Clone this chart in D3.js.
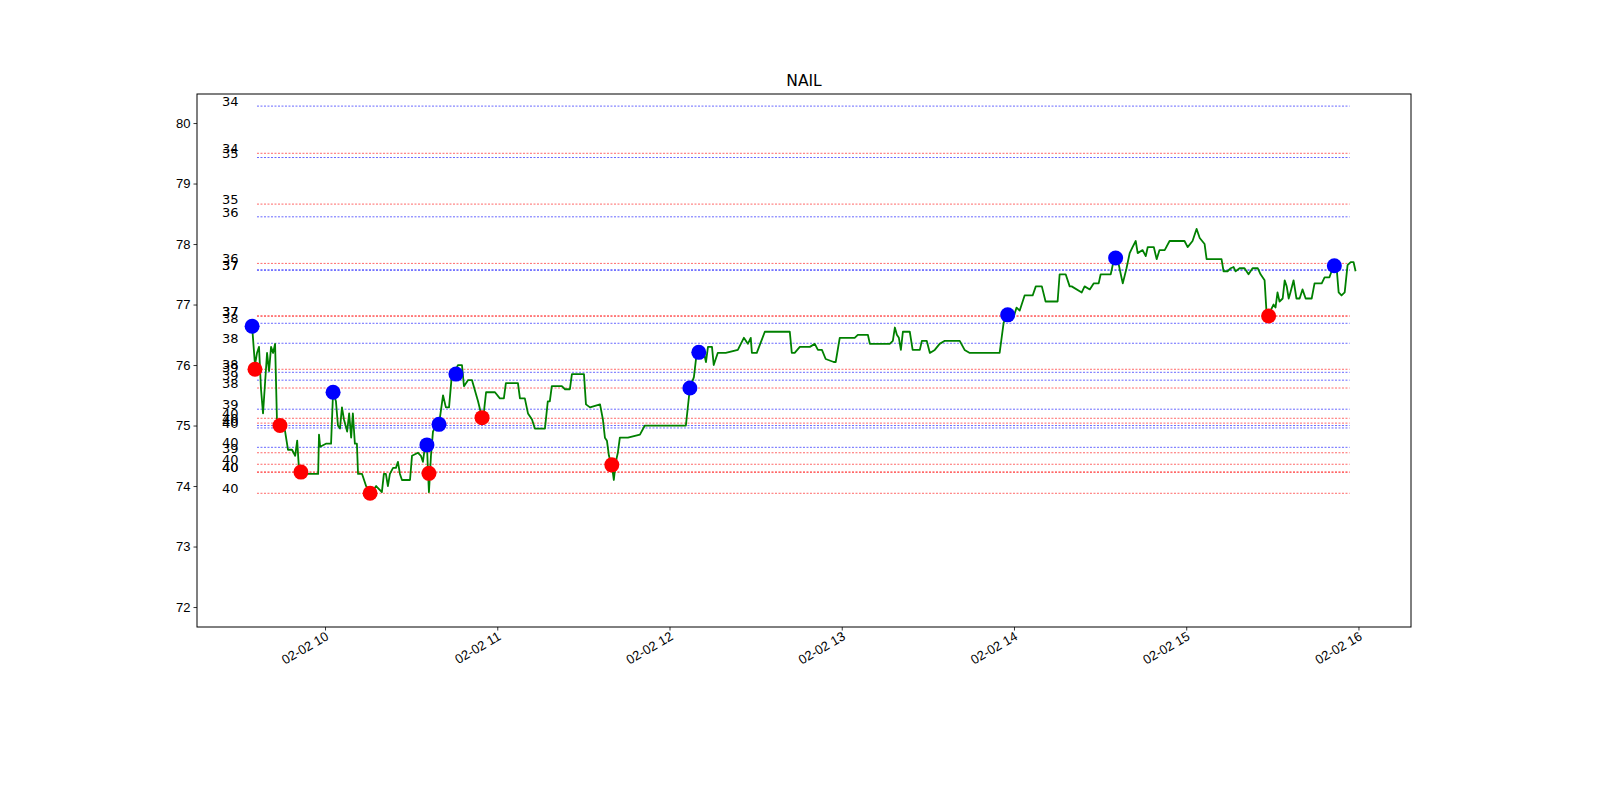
<!DOCTYPE html>
<html>
<head>
<meta charset="utf-8">
<script src="https://cdn.jsdelivr.net/npm/d3@7"></script>
<style>
  body { margin: 0; background: #fff; }
  svg { font-family: "DejaVu Sans", sans-serif; }
</style>
</head>
<body>
<svg width="1600" height="800"></svg>
<script>
// minutes after 09:00 on 02-02, price
var priceMinutes = [34.6,35.6,36.3,37.0,37.7,38.4,39.1,39.8,40.5,41.2,41.9,42.6,43.3,44.3,45.4,46.1,47.1,48.5,49.6,50.3,50.9,52.0,54.8,57.6,57.9,58.3,60.3,62.1,62.8,63.8,64.5,65.2,65.9,66.6,67.7,68.4,69.1,69.7,70.4,71.1,71.5,72.9,74.3,75.7,76.4,77.8,79.8,80.5,81.2,81.9,82.6,83.7,84.7,85.4,86.1,86.8,89.6,90.3,92.4,93.4,94.1,94.8,95.5,95.9,96.2,96.9,97.6,98.6,99.7,101.1,102.1,103.2,104.2,105.3,106.3,107.7,108.4,109.8,111.2,113.3,114.7,115.4,116.1,117.5,119.2,120.9,122.3,123.0,124.4,127.2,127.9,129.6,130.7,132.1,133.1,136.6,137.6,138.3,139.0,142.5,143.6,145.3,146.0,150.2,150.9,152.3,155.8,156.8,157.5,158.2,158.9,159.9,160.6,161.3,162.0,162.7,165.5,169.7,171.4,180.1,185.7,187.1,188.5,189.5,190.6,192.0,192.7,193.4,194.8,195.4,196.8,199.6,203.8,205.9,207.3,208.3,208.7,210.4,213.2,221.9,222.6,223.6,225.4,228.9,230.6,231.7,233.1,234.4,237.2,237.9,239.3,244.5,245.6,249.1,249.8,256.7,257.8,258.5,259.2,259.9,260.6,261.3,263.7,264.7,267.2,267.9,269.6,270.7,272.4,274.1,275.9,281.1,282.8,284.6,286.3,295.0,296.4,297.8,299.2,299.9,300.9,302.0,303.7,306.5,307.6,309.7,311.0,315.2,315.9,318.0,319.4,320.1,323.6,324.6,326.4,327.8,329.5,330.2,332.6,333.7,334.7,336.1,337.2,337.9,339.2,340.3,341.3,342.4,343.1,344.8,345.9,346.6,348.7,349.7,350.7,352.5,354.2,359.4,360.5,362.2,363.6,364.7,366.4,367.1,369.9,372.3,373.0,374.4,375.5,376.5,377.2,378.6,380.3,381.7,383.1,384.9,385.9,387.3,388.0,388.7,389.4,390.4,391.1,391.8,392.5,393.6,394.3,395.0,395.7,396.3,397.4,398.4,399.5,400.5,401.6,403.7,404.7,407.2,408.2,409.9,411.3,412.4,413.1,414.1,415.2,416.2,417.3,418.3,419.0];
var priceValues = [76.64,76.0,76.2,76.3,75.6,75.2,75.7,76.2,75.9,76.3,76.2,76.35,75.0,75.0,75.0,74.9,74.6,74.6,74.5,74.75,74.3,74.2,74.2,74.2,74.85,74.65,74.7,74.7,75.55,75.4,75.0,74.95,75.3,75.1,74.9,75.2,74.8,75.2,74.7,74.7,74.2,74.2,74.0,73.9,73.9,74.0,73.9,74.2,74.2,74.0,74.2,74.3,74.3,74.4,74.2,74.1,74.1,74.5,74.55,74.5,74.4,74.65,74.68,74.2,73.9,74.5,74.9,75.0,75.02,75.5,75.3,75.3,75.85,75.9,76.0,76.0,75.65,75.75,75.75,75.4,75.13,75.25,75.55,75.55,75.55,75.45,75.45,75.7,75.7,75.7,75.45,75.45,75.2,75.1,74.95,74.95,75.4,75.4,75.65,75.65,75.6,75.6,75.85,75.85,75.35,75.3,75.35,75.1,74.8,74.75,74.5,74.35,74.1,74.4,74.55,74.8,74.8,74.85,75.0,75.0,75.0,75.62,75.8,76.21,76.2,76.2,76.05,76.3,76.3,76.0,76.2,76.2,76.25,76.45,76.35,76.45,76.2,76.2,76.55,76.55,76.2,76.2,76.3,76.3,76.35,76.25,76.25,76.1,76.05,76.05,76.45,76.45,76.5,76.5,76.35,76.35,76.4,76.62,76.5,76.45,76.25,76.55,76.55,76.25,76.25,76.4,76.4,76.2,76.25,76.35,76.4,76.4,76.25,76.2,76.2,76.2,76.7,76.83,76.9,76.8,76.95,76.9,77.15,77.15,77.3,77.3,77.05,77.05,77.5,77.5,77.3,77.3,77.2,77.3,77.25,77.35,77.35,77.5,77.5,77.5,77.72,77.75,77.5,77.35,77.6,77.85,77.95,78.05,77.85,77.9,77.8,77.95,77.95,77.75,77.9,77.9,78.05,78.05,77.95,78.05,78.25,78.1,78.0,77.75,77.75,77.75,77.55,77.55,77.6,77.62,77.55,77.6,77.6,77.5,77.6,77.6,77.5,77.4,76.85,76.81,76.9,77.0,76.95,77.2,77.05,77.1,77.4,77.3,77.1,77.2,77.4,77.1,77.1,77.25,77.1,77.1,77.35,77.35,77.45,77.45,77.64,77.6,77.2,77.15,77.2,77.65,77.7,77.7,77.55];

var highMinutes = [34.6,62.8,95.5,99.7,105.6,187.1,190.2,297.8,335.4,411.6];
var highValues  = [76.64,75.55,74.68,75.02,75.85,75.62,76.21,76.83,77.77,77.64];
var lowMinutes  = [35.6,44.3,51.6,75.7,96.2,114.7,159.9,388.7];
var lowValues   = [75.93,75.0,74.23,73.88,74.21,75.13,74.35,76.81];

var levelValues = [80.28,79.50,79.43,78.66,78.45,77.68,77.57,77.57,76.81,76.81,76.69,76.36,75.93,75.88,75.75,75.62,75.27,75.12,75.04,75.00,74.96,74.64,74.55,74.36,74.23,74.23,73.88];
var levelLabels = ["34","34","35","35","36","36","37","37","37","37","38","38","38","39","39","38","39","40","40","40","40","40","39","40","40","40","40"];
var levelKinds  = ["b","r","b","r","b","r","b","b","r","r","b","b","r","b","b","r","b","r","r","b","b","b","r","r","r","r","r"];
var levelStart = 36.3, levelEnd = 416.9, labelMinute = 24.1;

var yTicks = [72,73,74,75,76,77,78,79,80];
var xTickHours = [10,11,12,13,14,15,16];

var svg = d3.select("svg"),
  margin = {left: 197, right: 189, top: 94, bottom: 173},
  width = 1600 - margin.left - margin.right,
  height = 800 - margin.top - margin.bottom;

var base = new Date(2021, 1, 2, 9, 0);
function toDate(m) { return new Date(base.getTime() + m * 60000); }

var x = d3.scaleTime()
  .domain([toDate(15.4), toDate(438.3)])
  .range([0, width]);
var y = d3.scaleLinear()
  .domain([71.67, 80.48])
  .range([height, 0]);

var g = svg.append("g").attr("transform", "translate(" + margin.left + "," + margin.top + ")");

// level lines
var colors = {b: "#0000ff", r: "#ff0000"};
levelValues.forEach(function(v, i) {
  g.append("line")
    .attr("x1", x(toDate(levelStart))).attr("x2", x(toDate(levelEnd)))
    .attr("y1", y(v)).attr("y2", y(v))
    .attr("stroke", colors[levelKinds[i]])
    .attr("stroke-width", 0.6)
    .attr("stroke-dasharray", "2,1.5");
  g.append("text")
    .attr("x", x(toDate(labelMinute)))
    .attr("y", y(v))
    .attr("font-size", 13)
    .attr("fill", "#000")
    .text(levelLabels[i]);
});

// price line
var line = d3.line()
  .x(function(d, i) { return x(toDate(priceMinutes[i])); })
  .y(function(d) { return y(d); });
g.append("path")
  .datum(priceValues)
  .attr("fill", "none")
  .attr("stroke", "#008000")
  .attr("stroke-width", 1.8)
  .attr("stroke-linejoin", "round")
  .attr("d", line);

g.selectAll(".hi").data(highValues).enter().append("circle")
  .attr("cx", function(d, i) { return x(toDate(highMinutes[i])); })
  .attr("cy", function(d) { return y(d); })
  .attr("r", 7.5).attr("fill", "#0000ff");
g.selectAll(".lo").data(lowValues).enter().append("circle")
  .attr("cx", function(d, i) { return x(toDate(lowMinutes[i])); })
  .attr("cy", function(d) { return y(d); })
  .attr("r", 7.5).attr("fill", "#ff0000");

// axes
var xAxis = g.append("g")
  .attr("transform", "translate(0," + height + ")")
  .call(d3.axisBottom(x)
    .tickValues(xTickHours.map(function(h) { return toDate(h * 60 - 540); }))
    .tickFormat(d3.timeFormat("%m-%d %H"))
    .tickSizeOuter(0).tickSize(3.5));
xAxis.selectAll("text")
  .attr("font-size", 13)
  .attr("fill", "#000")
  .attr("text-anchor", "end")
  .attr("dy", null).attr("y", 0)
  .attr("transform", "translate(4,12) rotate(-30)");

g.append("g")
  .call(d3.axisLeft(y).tickValues(yTicks).tickSizeOuter(0).tickSize(3.5))
  .selectAll("text").attr("font-size", 13).attr("fill", "#000");

g.selectAll(".domain").remove();
g.selectAll(".tick line").attr("stroke", "#000").attr("stroke-width", 0.8);

g.append("rect")
  .attr("width", width).attr("height", height)
  .attr("fill", "none").attr("stroke", "#000").attr("stroke-width", 1);

svg.append("text")
  .attr("x", margin.left + width / 2).attr("y", 86)
  .attr("text-anchor", "middle")
  .attr("font-size", 15.5)
  .text("NAIL");
</script>
</body>
</html>
